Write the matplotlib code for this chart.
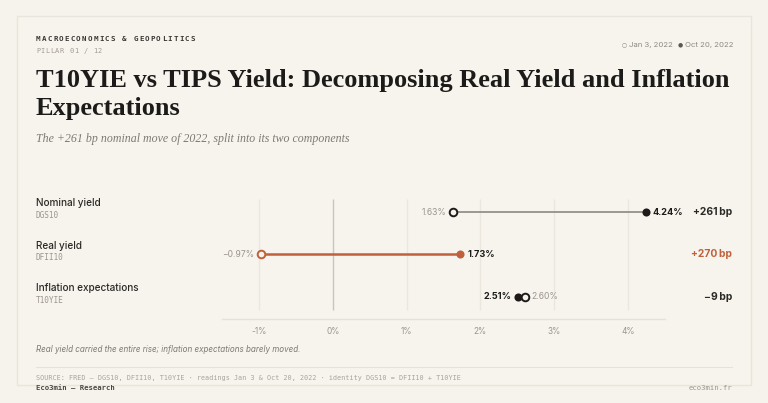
import numpy as np
import matplotlib
matplotlib.use("Agg")
import matplotlib.pyplot as plt
import matplotlib.transforms as mtransforms
from matplotlib.patches import Rectangle

# data
row_names = ["Nominal yield", "Real yield", "Inflation expectations"]
row_codes = ["DGS10", "DFII10", "T10YIE"]
start_vals = [1.63, -0.97, 2.60]   # Jan 3, 2022
end_vals = [4.24, 1.73, 2.51]      # Oct 20, 2022
change_bp = [261, 270, -9]
x_ticks = [-1, 0, 1, 2, 3, 4]
x_tick_labels = ["-1%", "0%", "1%", "2%", "3%", "4%"]

BG = "#f6f3ec"
INK = "#1c1b19"
GREY = "#8c8983"
LIGHT = "#e6e2da"
RUST = "#c0613b"

W, H = 768, 403
fig = plt.figure(figsize=(W / 100, H / 100), dpi=100, facecolor=BG)


def fx(px):
    return px / W


def fy(py):
    return 1 - py / H


def spaced(x0, y0, txt, pitch, **kw):
    # monospace text with letter spacing, one glyph at a time
    for k, ch in enumerate(txt):
        if ch != " ":
            fig.text(fx(x0 + k * pitch), fy(y0), ch, va="center", **kw)


# card
fig.patches.append(Rectangle((fx(17), fy(385)), fx(751) - fx(17), fy(16) - fy(385),
                             transform=fig.transFigure, facecolor="#f7f4ed",
                             edgecolor="#e9e5dc", linewidth=1.0, zorder=-5))

sans = ["Inter", "DejaVu Sans"]
mono = ["DejaVu Sans Mono"]
serif = ["Liberation Serif"]

# header
spaced(36, 39, "MACROECONOMICS & GEOPOLITICS", 5.72, family=mono, fontsize=5.4,
       weight="bold", color="#3a3834")
spaced(36, 51, "PILLAR 01 / 12", 4.75, family=mono, fontsize=5.0, color="#a29e97")

# legend (top right)
fig.text(fx(624), fy(45), "\u25cb", family=["DejaVu Sans"], fontsize=4.2, color="#8c8983",
         va="center", ha="center")
fig.text(fx(629), fy(45), "Jan 3, 2022", family=sans, fontsize=5.6, color="#8c8983",
         va="center", ha="left")
fig.text(fx(680), fy(45), "\u25cf", family=["DejaVu Sans"], fontsize=4.2, color="#5a5853",
         va="center", ha="center")
fig.text(fx(685), fy(45), "Oct 20, 2022", family=sans, fontsize=5.6, color="#8c8983",
         va="center", ha="left")

t1 = fig.text(fx(36), fy(80), "T10YIE vs TIPS Yield: Decomposing Real Yield and Inflation",
              family=serif, fontsize=20, weight="bold", color=INK, va="center")
# fit the title line to the reference width
r = fig.canvas.get_renderer()
w = t1.get_window_extent(renderer=r).width
title_size = 20 * 691 / w
t1.set_fontsize(title_size)
fig.text(fx(36), fy(108), "Expectations", family=serif, fontsize=title_size,
         weight="bold", color=INK, va="center")
fig.text(fx(36), fy(139), "The +261 bp nominal move of 2022, split into its two components",
         family=serif, fontsize=8.6, style="italic", color="#7d7a74", va="center")

# dumbbell axes
ax = fig.add_axes([fx(222), fy(319), fx(665) - fx(222), fy(199) - fy(319)])
ax.set_facecolor("none")
ax.set_xlim(-1.5, 4.5)
ax.set_ylim(2.518, -0.306)
for s in ["top", "right", "left"]:
    ax.spines[s].set_visible(False)
ax.spines["bottom"].set_color(LIGHT)
ax.spines["bottom"].set_linewidth(1.0)
ax.set_yticks([])
ax.set_xticks(x_ticks)
ax.set_xticklabels(x_tick_labels, family=sans, fontsize=6, color="#9a968f")
ax.tick_params(axis="x", length=0, pad=6)

for t in x_ticks:
    ax.vlines(t, -0.306, 2.3, color="#c9c5bd" if t == 0 else "#ebe7df",
              linewidth=1.0, zorder=1)

line_colors = [GREY, RUST, INK]
dot_colors = [INK, RUST, INK]
for i in range(len(row_names)):
    s, e = start_vals[i], end_vals[i]
    ax.plot([s, e], [i, i], color=line_colors[i], linewidth=1.8 if i == 1 else 1.2,
            zorder=2, solid_capstyle="butt")
    ax.scatter([e], [i], s=34, color=dot_colors[i], zorder=4, linewidths=0)
    ax.scatter([s], [i], s=30, facecolor=BG, edgecolor=dot_colors[i], linewidths=1.4,
               zorder=5)
    s_txt = f"{s:.2f}%".replace("-", "\u2212")
    e_txt = f"{e:.2f}%"
    off = 0.09
    if s < e:
        ax.text(s - off, i, s_txt, ha="right", va="center", family=sans, fontsize=6.2,
                color="#9a968f")
        ax.text(e + off, i, e_txt, ha="left", va="center", family=sans, fontsize=6.6,
                weight="bold", color=INK)
    else:
        ax.text(e - off, i, e_txt, ha="right", va="center", family=sans, fontsize=6.6,
                weight="bold", color=INK)
        ax.text(s + off, i, s_txt, ha="left", va="center", family=sans, fontsize=6.2,
                color="#9a968f")

tr = mtransforms.blended_transform_factory(fig.transFigure, ax.transData)
for i in range(len(row_names)):
    ax.text(fx(36), i - 0.21, row_names[i], transform=tr, ha="left", va="center",
            family=sans, fontsize=7.2, weight="medium", color="#2a2926", clip_on=False)
    ax.text(fx(36), i + 0.08, row_codes[i], transform=tr, ha="left", va="center",
            family=mono, fontsize=5.6, color="#9a968f", clip_on=False)
    bp = change_bp[i]
    bp_txt = (f"+{bp}" if bp > 0 else f"\u2212{abs(bp)}") + "\u2009bp"
    ax.text(fx(732), i, bp_txt, transform=tr, ha="right", va="center", family=sans,
            fontsize=7.4, weight="bold", color=RUST if i == 1 else "#2a2926",
            clip_on=False)

# footer
fig.text(fx(36), fy(350), "Real yield carried the entire rise; inflation expectations barely moved.",
         family=sans, fontsize=5.8, style="italic", color="#7d7a74", va="center")
fig.add_artist(plt.Line2D([fx(36), fx(732)], [fy(367), fy(367)], color=LIGHT,
                          linewidth=0.8, transform=fig.transFigure))
fig.text(fx(36), fy(378),
         "SOURCE: FRED \u2014 DGS10, DFII10, T10YIE \u00b7 readings Jan 3 & Oct 20, 2022 \u00b7 identity DGS10 = DFII10 + T10YIE",
         family=mono, fontsize=4.85, color="#a8a49d", va="center")
fig.text(fx(36), fy(388), "Eco3min \u2014 Research", family=mono, fontsize=5.2,
         weight="bold", color="#4a4843", va="center")
fig.text(fx(732), fy(388), "eco3min.fr", family=mono, fontsize=5.2, color="#9a968f",
         va="center", ha="right")

fig.savefig("out.png", dpi=100, facecolor=BG)
